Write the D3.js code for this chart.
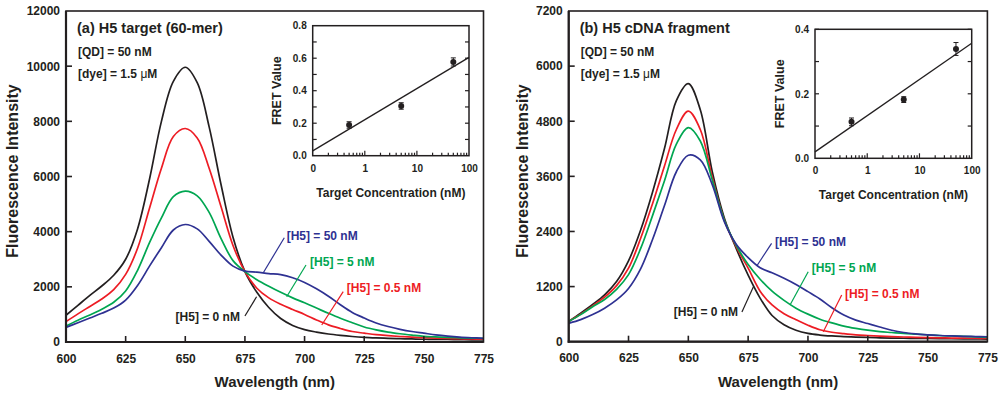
<!DOCTYPE html>
<html><head><meta charset="utf-8">
<script src="https://cdn.jsdelivr.net/npm/d3@7"></script>
<style>
html,body{margin:0;padding:0;background:#fff;}
svg{display:block;font-family:"Liberation Sans",Arial,sans-serif;font-weight:bold;}
</style></head><body>
<svg id="c" width="1000" height="393"></svg>
<script>
// ---------- data ----------
const wavelengths = [600,605,610,615,620,625,630,635,640,645,650,655,660,665,670,675,680,685,690,695,700,705,710,715,720,725,730,735,740,745,750,755,760,765,770,775];

// panel (a) H5 target (60-mer)
const a_H5_0   = [970,1330,1690,2030,2420,3000,4100,5900,8000,9450,9960,9400,7800,5700,3800,2550,1800,1250,850,600,450,360,290,240,200,170,150,135,120,110,100,95,90,85,80,78];
const a_H5_05  = [740,1020,1290,1560,1900,2450,3400,4850,6300,7450,7740,7400,6300,4900,3500,2550,1950,1600,1370,1180,1000,800,620,490,380,320,265,230,200,175,155,140,128,118,108,100];
const a_H5_5   = [580,790,980,1190,1440,1850,2600,3600,4500,5270,5470,5300,4700,3750,2950,2550,2260,2020,1800,1600,1420,1230,1040,860,700,545,440,360,300,250,205,185,165,150,140,130];
const a_H5_50  = [530,700,870,1040,1230,1520,2050,2750,3420,4060,4260,4100,3650,3150,2750,2570,2530,2480,2440,2330,2160,1930,1660,1350,1070,870,690,560,460,380,320,260,215,180,155,135];

// panel (b) H5 cDNA fragment
const b_H5_0   = [440,620,810,1020,1310,1760,2420,3250,4200,5250,5620,5050,3700,2700,2030,1450,950,570,370,250,180,145,125,112,100,92,85,80,75,72,70,67,64,62,60,58];
const b_H5_05  = [440,600,780,970,1220,1600,2240,3000,3820,4620,5020,4620,3580,2650,2070,1600,1100,800,610,480,360,260,205,175,150,135,122,112,102,95,90,85,80,77,75,73];
const b_H5_5   = [440,590,760,920,1140,1460,2020,2740,3500,4300,4660,4370,3520,2650,2100,1680,1360,1100,900,730,600,490,410,340,290,250,220,200,180,165,150,135,125,115,105,95];
const b_H5_50  = [400,480,590,730,910,1160,1580,2220,2960,3700,4060,3960,3420,2620,2120,1830,1610,1500,1380,1245,1090,930,740,580,470,395,320,250,200,170,150,135,125,118,112,108];

// insets: FRET vs target concentration
const concentrations = [0.5, 5, 50];
const a_fret = [0.189, 0.306, 0.577];
const a_fretErr = [0.02, 0.02, 0.025];
const a_fitX = [0.1, 100];
const a_fitY = [0.03, 0.605];
const b_fret = [0.113, 0.182, 0.339];
const b_fretErr = [0.012, 0.009, 0.02];
const b_fitX = [0.1, 100];
const b_fitY = [0.02, 0.357];

// tick labels
const xTicks = [600,625,650,675,700,725,750,775];
const a_yTicks = [0,2000,4000,6000,8000,10000,12000];
const b_yTicks = [0,1200,2400,3600,4800,6000,7200];
const insetXTicks = [0.1,1,10,100];
const insetXLabels = ["0","1","10","100"];
const a_insetYTicks = [0,0.2,0.4,0.6,0.8];
const b_insetYTicks = [0,0.2,0.4];

const seriesNames = ["[H5] = 0 nM","[H5] = 0.5 nM","[H5] = 5 nM","[H5] = 50 nM"];
const colors = ["#231f20","#ed1c24","#00a651","#2e3192"];

// annotation anchors in data units: [pointer end w, v, pointer start w, v, text w, v]
const a_annot = [[679.9,1642,675.0,943,672.9,761],[707.2,616,716.2,1824,717.7,1795],[692.5,1642,700.6,2792,702.3,2755],[682.7,2512,691.5,3781,692.5,3680]];
const b_annot = [[677.2,1197,672.4,647,670.8,560],[706.4,218,714.1,1017,715.5,962],[692.5,799,700.1,1524,701.6,1507],[678.6,1648,684.8,2142,686.2,2084]];

// ---------- drawing ----------
const svg = d3.select("#c");
const ink = "#231f20";

function panel(o){
  const g = svg.append("g");
  const x = d3.scaleLinear().domain([600,775]).range([o.x0,o.x1]);
  const y = d3.scaleLinear().domain([0,o.ymax]).range([o.yb,o.yt]);

  // curves
  const line = d3.line().x((d,i)=>x(wavelengths[i])).y(d=>y(d)).curve(d3.curveCatmullRom.alpha(0.5));
  o.series.forEach((s,k)=>{
    g.append("path").attr("d",line(s)).attr("fill","none").attr("stroke",colors[k]).attr("stroke-width",1.7);
  });

  // frame
  g.append("rect").attr("x",o.x0).attr("y",o.yt).attr("width",o.x1-o.x0).attr("height",o.yb-o.yt)
    .attr("fill","none").attr("stroke",ink).attr("stroke-width",1.6);
  g.append("line").attr("x1",o.x0).attr("x2",o.x0).attr("y1",o.yt).attr("y2",o.yb+1).attr("stroke",ink).attr("stroke-width",2.2);
  g.append("line").attr("x1",o.x0-1).attr("x2",o.x1).attr("y1",o.yb).attr("y2",o.yb).attr("stroke",ink).attr("stroke-width",2.2);

  // axes
  const xa = g.append("g").attr("transform",`translate(0,${o.yb})`)
    .call(d3.axisBottom(x).tickValues(xTicks).tickSize(0).tickPadding(12).tickFormat(d3.format("d")));
  xa.select(".domain").remove();
  xa.selectAll("text").attr("font-size",12).attr("font-weight","bold").attr("fill",ink).attr("font-family","Liberation Sans, Arial, sans-serif");
  xTicks.slice(1,-1).forEach(t=>g.append("line").attr("x1",x(t)).attr("x2",x(t)).attr("y1",o.yb).attr("y2",o.yb-6).attr("stroke",ink).attr("stroke-width",1.6));

  const ya = g.append("g").attr("transform",`translate(${o.x0},0)`)
    .call(d3.axisLeft(y).tickValues(o.yTicks).tickSize(0).tickPadding(6).tickFormat(d3.format("d")));
  ya.select(".domain").remove();
  ya.selectAll("text").attr("font-size",12).attr("font-weight","bold").attr("fill",ink).attr("font-family","Liberation Sans, Arial, sans-serif");
  o.yTicks.slice(1,-1).forEach(t=>g.append("line").attr("x1",o.x0).attr("x2",o.x0+6).attr("y1",y(t)).attr("y2",y(t)).attr("stroke",ink).attr("stroke-width",1.6));

  // axis titles
  g.append("text").attr("x",(o.x0+o.x1)/2).attr("y",387).attr("text-anchor","middle").attr("font-size",15).attr("fill",ink).text("Wavelength (nm)");
  g.append("text").attr("transform",`translate(${o.ylabX},${o.ylabY}) rotate(-90)`).attr("text-anchor","middle").attr("font-size",16).attr("fill",ink).text("Fluorescence Intensity");

  // panel texts
  g.append("text").attr("x",o.x0+11).attr("y",33).attr("font-size",14.5).attr("fill",ink).text(o.title);
  g.append("text").attr("x",o.x0+12).attr("y",56).attr("font-size",12).attr("fill",ink).text("[QD] = 50 nM");
  const dye = g.append("text").attr("x",o.x0+12).attr("y",78).attr("font-size",12).attr("fill",ink);
  dye.append("tspan").text("[dye] = 1.5 ");
  dye.append("tspan").attr("font-weight","normal").text("\u03bc");
  dye.append("tspan").text("M");

  // annotations
  o.annot.forEach((a,k)=>{
    g.append("line").attr("x1",x(a[0])).attr("y1",y(a[1])).attr("x2",x(a[2])).attr("y2",y(a[3])).attr("stroke",colors[k]).attr("stroke-width",1.2);
    g.append("text").attr("x",x(a[4])).attr("y",y(a[5])).attr("text-anchor",k===0?"end":"start")
      .attr("font-size",12).attr("fill",colors[k]).text(seriesNames[k]);
  });

  // inset
  const ix = d3.scaleLog().domain([0.1,100]).range([o.ix0,o.ix1]);
  const iy = d3.scaleLinear().domain([0,o.iymax]).range([o.iyb,o.iyt]);
  const ig = g.append("g");
  ig.append("rect").attr("x",o.ix0).attr("y",o.iyt).attr("width",o.ix1-o.ix0).attr("height",o.iyb-o.iyt)
    .attr("fill","none").attr("stroke",ink).attr("stroke-width",1.5);
  const minor = [];
  [0.1,1,10].forEach(dec=>{for(let m=2;m<=9;m++) minor.push(dec*m);});
  minor.forEach(t=>ig.append("line").attr("x1",ix(t)).attr("x2",ix(t)).attr("y1",o.iyb).attr("y2",o.iyb-3).attr("stroke",ink).attr("stroke-width",1.2));
  [1,10].forEach(t=>ig.append("line").attr("x1",ix(t)).attr("x2",ix(t)).attr("y1",o.iyb).attr("y2",o.iyb-5).attr("stroke",ink).attr("stroke-width",1.2));
  const ixa = ig.append("g").attr("transform",`translate(0,${o.iyb})`)
    .call(d3.axisBottom(ix).tickValues(insetXTicks).tickSize(0).tickPadding(9).tickFormat((d,i)=>insetXLabels[i]));
  ixa.select(".domain").remove();
  ixa.selectAll("text").attr("font-size",10).attr("font-weight","bold").attr("fill",ink).attr("font-family","Liberation Sans, Arial, sans-serif");
  const iya = ig.append("g").attr("transform",`translate(${o.ix0},0)`)
    .call(d3.axisLeft(iy).tickValues(o.iyTicks).tickSize(0).tickPadding(6).tickFormat(d3.format(".1f")));
  iya.select(".domain").remove();
  iya.selectAll("text").attr("font-size",10).attr("font-weight","bold").attr("fill",ink).attr("font-family","Liberation Sans, Arial, sans-serif");
  d3.range(0.1,o.iymax,0.1).forEach(t=>{
    ig.append("line").attr("x1",o.ix0).attr("x2",o.ix0+4).attr("y1",iy(t)).attr("y2",iy(t)).attr("stroke",ink).attr("stroke-width",1.2);
    ig.append("line").attr("x1",o.ix1).attr("x2",o.ix1-4).attr("y1",iy(t)).attr("y2",iy(t)).attr("stroke",ink).attr("stroke-width",1.2);
  });
  ig.append("line").attr("x1",ix(o.fitX[0])).attr("y1",iy(o.fitY[0])).attr("x2",ix(o.fitX[1])).attr("y2",iy(o.fitY[1]))
    .attr("stroke",ink).attr("stroke-width",1.3);
  concentrations.forEach((c,i)=>{
    const cx = ix(c), v = o.fret[i], e = o.err[i];
    ig.append("line").attr("x1",cx).attr("x2",cx).attr("y1",iy(v-e)).attr("y2",iy(v+e)).attr("stroke",ink).attr("stroke-width",1);
    [v-e,v+e].forEach(t=>ig.append("line").attr("x1",cx-2.5).attr("x2",cx+2.5).attr("y1",iy(t)).attr("y2",iy(t)).attr("stroke",ink).attr("stroke-width",1));
    ig.append("circle").attr("cx",cx).attr("cy",iy(v)).attr("r",3).attr("fill",ink);
  });
  ig.append("text").attr("transform",`translate(${o.iylabX},${(o.iyt+o.iyb)/2}) rotate(-90)`).attr("text-anchor","middle")
    .attr("font-size",12.5).attr("fill",ink).text("FRET Value");
  ig.append("text").attr("x",(o.ix0+o.ix1)/2).attr("y",o.ixlabY).attr("text-anchor","middle").attr("font-size",12).attr("fill",ink).text("Target Concentration (nM)");
}

panel({x0:66,x1:483.5,yt:11,yb:342,ymax:12000,yTicks:a_yTicks,series:[a_H5_0,a_H5_05,a_H5_5,a_H5_50],
  title:"(a) H5 target (60-mer)",annot:a_annot,ylabX:18,ylabY:171,
  ix0:312.7,ix1:469,iyt:25.7,iyb:155.7,iymax:0.8,iyTicks:a_insetYTicks,fret:a_fret,err:a_fretErr,fitX:a_fitX,fitY:a_fitY,iylabX:281,ixlabY:197});
panel({x0:568.7,x1:987.4,yt:11,yb:341.7,ymax:7200,yTicks:b_yTicks,series:[b_H5_0,b_H5_05,b_H5_5,b_H5_50],
  title:"(b) H5 cDNA fragment",annot:b_annot,ylabX:528,ylabY:171,
  ix0:815,ix1:971.7,iyt:29.3,iyb:158.3,iymax:0.4,iyTicks:b_insetYTicks,fret:b_fret,err:b_fretErr,fitX:b_fitX,fitY:b_fitY,iylabX:784,ixlabY:199});
</script>
</body></html>
